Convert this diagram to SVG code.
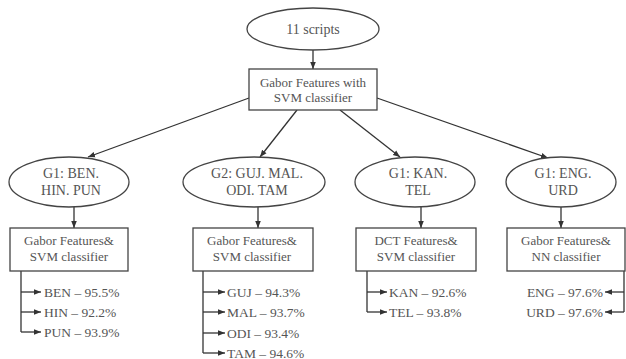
<svg xmlns="http://www.w3.org/2000/svg" width="626" height="359" viewBox="0 0 626 359">
<defs>
<marker id="ah" viewBox="0 0 10 10" refX="10" refY="5" markerWidth="7" markerHeight="7" markerUnits="userSpaceOnUse" orient="auto">
<path d="M0,1 L10,5 L0,9 z" fill="#333"/>
</marker>
<style>
.sh{fill:#fff;stroke:#444;stroke-width:1.3}
.t{font-size:13px;text-anchor:middle}
.e{font-size:14px;text-anchor:middle}
.r{font-size:13.5px}
.c{fill:none;stroke:#333;stroke-width:1.3}
.ca{fill:none;stroke:#333;stroke-width:1.3;marker-end:url(#ah)}
</style>
</defs>
<rect width="626" height="359" fill="#fff"/>
<g id="connectors">
<line class="ca" x1="313" y1="50" x2="313" y2="69"/>
<line class="ca" x1="249" y1="98" x2="88" y2="157"/>
<line class="ca" x1="297" y1="110" x2="260" y2="157"/>
<line class="ca" x1="340" y1="110" x2="400" y2="157"/>
<line class="ca" x1="377" y1="98" x2="548" y2="158"/>
<line class="ca" x1="74" y1="207" x2="74" y2="228"/>
<line class="ca" x1="258" y1="207" x2="258" y2="228"/>
<line class="ca" x1="421" y1="207" x2="421" y2="228"/>
<line class="ca" x1="561" y1="207" x2="561" y2="228"/>
<path class="c" d="M21,271 V332"/>
<line class="ca" x1="21" y1="292" x2="41" y2="292"/>
<line class="ca" x1="21" y1="312" x2="41" y2="312"/>
<line class="ca" x1="21" y1="332" x2="41" y2="332"/>
<path class="c" d="M203,271 V353"/>
<line class="ca" x1="203" y1="292" x2="225" y2="292"/>
<line class="ca" x1="203" y1="312" x2="225" y2="312"/>
<line class="ca" x1="203" y1="333" x2="225" y2="333"/>
<line class="ca" x1="203" y1="353" x2="225" y2="353"/>
<path class="c" d="M367,271 V312"/>
<line class="ca" x1="367" y1="292" x2="387" y2="292"/>
<line class="ca" x1="367" y1="312" x2="387" y2="312"/>
<path class="c" d="M624,271 V312"/>
<line class="ca" x1="624" y1="292" x2="605" y2="292"/>
<line class="ca" x1="624" y1="312" x2="605" y2="312"/>
</g>
<g font-family="Liberation Serif, serif" fill="#555">
<g id="root">
<ellipse class="sh" cx="313" cy="29" rx="66" ry="21"/>
<text class="e" x="313" y="34">11 scripts</text>
</g>
<g id="gabor-svm">
<rect class="sh" x="249" y="69" width="128" height="41"/>
<text class="t" x="313" y="87">Gabor Features with</text>
<text class="t" x="313" y="102">SVM classifier</text>
</g>
<g id="g1-ben">
<ellipse class="sh" cx="69" cy="182" rx="60" ry="25"/>
<text class="e" x="71" y="178">G1: BEN.</text>
<text class="e" x="71" y="195">HIN. PUN</text>
</g>
<g id="g2-guj">
<ellipse class="sh" cx="254" cy="182" rx="71" ry="25"/>
<text class="e" x="257" y="178">G2: GUJ. MAL.</text>
<text class="e" x="257" y="195">ODI. TAM</text>
</g>
<g id="g1-kan">
<ellipse class="sh" cx="415" cy="182" rx="60" ry="25"/>
<text class="e" x="418" y="178">G1: KAN.</text>
<text class="e" x="418" y="195">TEL</text>
</g>
<g id="g1-eng">
<ellipse class="sh" cx="561" cy="182" rx="55" ry="25"/>
<text class="e" x="563" y="178">G1: ENG.</text>
<text class="e" x="563" y="195">URD</text>
</g>
<g id="box-ben">
<rect class="sh" x="10" y="228" width="118" height="43"/>
<text class="t" x="69" y="245">Gabor Features&amp;</text>
<text class="t" x="69" y="261">SVM classifier</text>
</g>
<g id="box-guj">
<rect class="sh" x="193" y="228" width="120" height="43"/>
<text class="t" x="252" y="245">Gabor Features&amp;</text>
<text class="t" x="252" y="261">SVM classifier</text>
</g>
<g id="box-kan">
<rect class="sh" x="356" y="228" width="120" height="43"/>
<text class="t" x="416" y="245">DCT Features&amp;</text>
<text class="t" x="416" y="261">SVM classifier</text>
</g>
<g id="box-eng">
<rect class="sh" x="507" y="228" width="118" height="43"/>
<text class="t" x="566" y="245">Gabor Features&amp;</text>
<text class="t" x="566" y="261">NN classifier</text>
</g>
<g id="results">
<text class="r" x="44" y="296.5">BEN – 95.5%</text>
<text class="r" x="44" y="316.5">HIN – 92.2%</text>
<text class="r" x="44" y="336.5">PUN – 93.9%</text>
<text class="r" x="227" y="296.5">GUJ – 94.3%</text>
<text class="r" x="227" y="316.5">MAL – 93.7%</text>
<text class="r" x="227" y="337.5">ODI – 93.4%</text>
<text class="r" x="227" y="357.5">TAM – 94.6%</text>
<text class="r" x="389" y="296.5">KAN – 92.6%</text>
<text class="r" x="389" y="316.5">TEL – 93.8%</text>
<text class="r" x="603" y="296.5" text-anchor="end">ENG – 97.6%</text>
<text class="r" x="603" y="316.5" text-anchor="end">URD – 97.6%</text>
</g>
</g>
</svg>
